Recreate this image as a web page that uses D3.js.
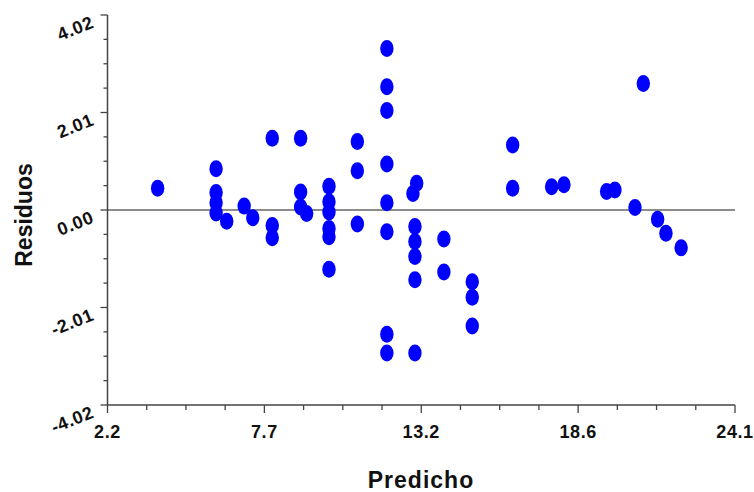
<!DOCTYPE html>
<html lang="en">
<head>
    <meta charset="UTF-8">
    <title>Residuos vs Predicho</title>
    <script src="https://d3js.org/d3.v7.min.js"></script>
    <style>
        body { margin: 0; background: #fff; }
        text { font-family: "Liberation Sans", Arial, sans-serif; font-weight: bold; fill: #111; }
    </style>
</head>
<body>

<script type="text/javascript">
    // predicted values (x) and residuals (y)
    var predicho = [
        3.95, 5.99, 5.99, 5.99, 5.99, 6.36, 6.97, 7.27, 7.95, 7.95,
        7.95, 8.94, 8.94, 8.94, 9.15, 9.93, 9.93, 9.93, 9.93, 9.93,
        9.93, 10.92, 10.92, 10.92, 11.95, 11.95, 11.95, 11.95, 11.95, 11.95,
        11.95, 11.95, 12.99, 12.86, 12.93, 12.93, 12.93, 12.93, 12.93, 13.94,
        13.94, 14.93, 14.93, 14.93, 16.34, 16.34, 17.70, 18.13, 19.62, 19.91,
        20.90, 20.61, 21.40, 21.69, 22.22
    ];
    var residuos = [
        0.45, 0.85, 0.36, 0.15, -0.06, -0.23, 0.08, -0.16, -0.32, -0.57,
        1.48, 1.48, 0.37, 0.06, -0.07, 0.49, 0.17, -0.04, -0.38, -0.55,
        -1.22, 1.41, 0.81, -0.29, 3.33, 2.54, 2.05, 0.95, 0.15, -0.45,
        -2.56, -2.95, 0.55, 0.34, -0.34, -0.65, -0.96, -1.44, -2.95, -0.60,
        -1.28, -1.48, -1.80, -2.39, 1.34, 0.45, 0.48, 0.52, 0.38, 0.41,
        2.61, 0.05, -0.19, -0.48, -0.78
    ];

    var xTickLabels = ["2.2", "7.7", "13.2", "18.6", "24.1"];
    var yTickLabels = ["-4.02", "-2.01", "0.00", "2.01", "4.02"];
    var xDomain = [2.2, 24.1];
    var yDomain = [-4.02, 4.02];

    var svgWidth = 754;
    var svgHeight = 492;
    var plotLeft = 107.5, plotRight = 735, plotTop = 15, plotBottom = 405;

    var xScale = d3.scaleLinear().domain(xDomain).range([plotLeft, plotRight]);
    var yScale = d3.scaleLinear().domain(yDomain).range([plotBottom, plotTop]);

    var evenSteps = function (domain, n) {
        return d3.range(n + 1).map(function (i) {
            return domain[0] + (domain[1] - domain[0]) * i / n;
        });
    };
    var xMajor = evenSteps(xDomain, xTickLabels.length - 1);
    var yMajor = evenSteps(yDomain, yTickLabels.length - 1);
    var xMinor = evenSteps(xDomain, (xTickLabels.length - 1) * 4);
    var yMinor = evenSteps(yDomain, (yTickLabels.length - 1) * 4);

    var svg = d3.select("body").append("svg")
        .attr("width", svgWidth)
        .attr("height", svgHeight);

    // zero reference line
    svg.append("line")
        .attr("x1", plotLeft).attr("x2", plotRight)
        .attr("y1", yScale(0)).attr("y2", yScale(0))
        .attr("stroke", "#666")
        .attr("stroke-width", 1.5);

    // points
    svg.selectAll("ellipse")
        .data(predicho)
        .enter()
        .append("ellipse")
        .attr("cx", function (d) { return xScale(d); })
        .attr("cy", function (d, i) { return yScale(residuos[i]); })
        .attr("rx", 6.7)
        .attr("ry", 8.5)
        .attr("fill", "#0000ff");

    // x axis
    var xAxis = svg.append("g")
        .attr("transform", "translate(0," + plotBottom + ")");
    xAxis.append("line")
        .attr("x1", plotLeft).attr("x2", plotRight)
        .attr("stroke", "#444").attr("stroke-width", 1.5);
    xAxis.selectAll("line.minor")
        .data(xMinor)
        .enter()
        .append("line")
        .attr("class", "minor")
        .attr("x1", function (d) { return xScale(d); })
        .attr("x2", function (d) { return xScale(d); })
        .attr("y1", 0)
        .attr("y2", function (d, i) { return i % 4 === 0 ? 8 : 5; })
        .attr("stroke", "#444").attr("stroke-width", 1.3);
    xAxis.selectAll("text")
        .data(xMajor)
        .enter()
        .append("text")
        .attr("x", function (d) { return xScale(d); })
        .attr("y", 33)
        .attr("text-anchor", "middle")
        .attr("font-size", "18px")
        .attr("letter-spacing", "0.6px")
        .text(function (d, i) { return xTickLabels[i]; });

    // y axis
    var yAxis = svg.append("g");
    yAxis.append("line")
        .attr("x1", plotLeft).attr("x2", plotLeft)
        .attr("y1", plotTop).attr("y2", plotBottom)
        .attr("stroke", "#444").attr("stroke-width", 1.5);
    yAxis.selectAll("line.minor")
        .data(yMinor)
        .enter()
        .append("line")
        .attr("class", "minor")
        .attr("y1", function (d) { return yScale(d); })
        .attr("y2", function (d) { return yScale(d); })
        .attr("x1", plotLeft)
        .attr("x2", function (d, i) { return i % 4 === 0 ? plotLeft - 7 : plotLeft - 4; })
        .attr("stroke", "#444").attr("stroke-width", 1.3);
    yAxis.selectAll("text")
        .data(yMajor)
        .enter()
        .append("text")
        .attr("text-anchor", "end")
        .attr("font-size", "18px")
        .attr("letter-spacing", "0.6px")
        .attr("transform", function (d) {
            return "translate(95," + (yScale(d) + 12) + ") rotate(-22)";
        })
        .text(function (d, i) { return yTickLabels[i]; });

    // axis titles
    svg.append("text")
        .attr("x", 421)
        .attr("y", 488)
        .attr("text-anchor", "middle")
        .attr("font-size", "23px")
        .attr("letter-spacing", "1px")
        .text("Predicho");

    svg.append("text")
        .attr("transform", "translate(32,215) rotate(-90)")
        .attr("text-anchor", "middle")
        .attr("font-size", "23px")
        .text("Residuos");
</script>
</body>
</html>
